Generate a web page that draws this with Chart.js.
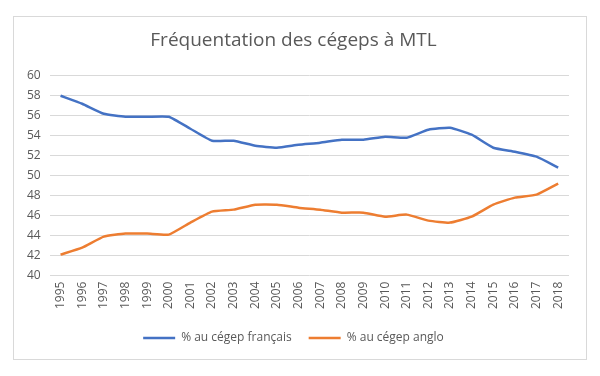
<!DOCTYPE html>
<html>
<head>
<meta charset="utf-8">
<script src="https://cdn.jsdelivr.net/npm/chart.js@4.4.1/dist/chart.umd.min.js"></script>
<style>
	html, body { margin: 0; padding: 0; background: #fff; }
	#wrap { position: relative; width: 600px; height: 376px; }
	#frame { position: absolute; left: 13px; top: 16px; width: 572px; height: 342px; border: 1px solid #d9d9d9; pointer-events: none; }
</style>
</head>
<body>
<div id="wrap">
	<canvas id="chart-cegeps" width="600" height="376"></canvas>
	<div id="frame"></div>
</div>
<script>
const YEARS = [
	"1995", "1996", "1997", "1998", "1999", "2000", "2001", "2002", "2003", "2004", "2005", "2006",
	"2007", "2008", "2009", "2010", "2011", "2012", "2013", "2014", "2015", "2016", "2017", "2018",
];
const FRANCAIS = [58.0, 57.2, 56.2, 55.9, 55.9, 55.9, 54.7, 53.5, 53.5, 53.0, 52.8, 53.1, 53.3, 53.6, 53.6, 53.9, 53.8, 54.6, 54.8, 54.1, 52.8, 52.4, 51.9, 50.8];
const ANGLO = [42.1, 42.8, 43.9, 44.2, 44.2, 44.1, 45.3, 46.4, 46.6, 47.1, 47.1, 46.8, 46.6, 46.3, 46.3, 45.9, 46.1, 45.5, 45.3, 45.9, 47.1, 47.8, 48.1, 49.2];
const Y_MIN = 40;
const Y_MAX = 60;
const Y_STEP = 2;

const COLORS = {
	BLUE: "#4472C4",
	ORANGE: "#ED7D31",
	MUTED: "#595959",
	GRID: "#d9d9d9",
};
const FONT = "'Open Sans', sans-serif";

(() => {
	const CHART_WRAPPER = document.getElementById("chart-cegeps");

	const CHART_DATA = {
		labels: YEARS,
		datasets: [
			{
				label: "% au cégep français",
				data: FRANCAIS,
				borderColor: COLORS.BLUE,
				backgroundColor: COLORS.BLUE,
				borderWidth: 2.5,
				pointRadius: 0,
				tension: 0.15,
			},
			{
				label: "% au cégep anglo",
				data: ANGLO,
				borderColor: COLORS.ORANGE,
				backgroundColor: COLORS.ORANGE,
				borderWidth: 2.5,
				pointRadius: 0,
				tension: 0.15,
			},
		],
	};

	const CHART_CONFIG = {
		type: "line",
		data: CHART_DATA,
		options: {
			responsive: false,
			animation: false,
			layout: {
				padding: { left: 18, right: 31, top: 0, bottom: 22 },
			},
			plugins: {
				title: {
					display: true,
					text: "Fréquentation des cégeps à MTL",
					color: COLORS.MUTED,
					font: { family: FONT, size: 19, weight: "normal" },
					padding: { top: 29, bottom: 24 },
				},
				legend: {
					position: "bottom",
					labels: {
						usePointStyle: true,
						pointStyle: "line",
						pointStyleWidth: 32,
						color: COLORS.MUTED,
						font: { family: FONT, size: 12 },
						padding: 17,
					},
				},
				tooltip: { enabled: false },
			},
			scales: {
				x: {
					offset: true,
					border: { display: false },
					grid: { display: false, drawTicks: false },
					ticks: {
						color: COLORS.MUTED,
						font: { family: FONT, size: 12 },
						minRotation: 90,
						maxRotation: 90,
						autoSkip: false,
						padding: 6,
					},
				},
				y: {
					min: Y_MIN,
					max: Y_MAX,
					border: { display: false },
					grid: { color: COLORS.GRID, lineWidth: 1, drawTicks: false },
					ticks: {
						stepSize: Y_STEP,
						color: COLORS.MUTED,
						font: { family: FONT, size: 12 },
						padding: 9,
					},
				},
			},
		},
	};

	if (CHART_WRAPPER) {
		new Chart(CHART_WRAPPER, CHART_CONFIG);
	}
})();
</script>
</body>
</html>
